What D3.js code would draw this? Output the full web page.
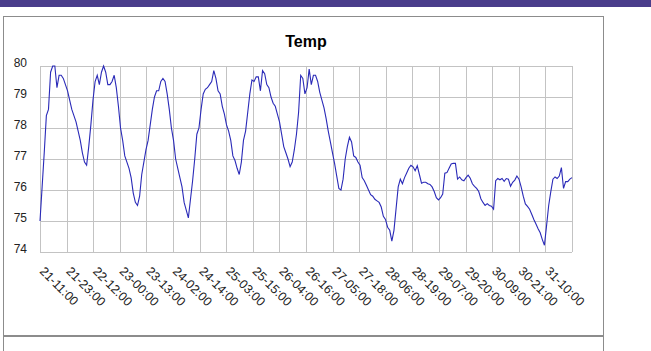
<!DOCTYPE html>
<html>
<head>
<meta charset="utf-8">
<script src="https://cdnjs.cloudflare.com/ajax/libs/d3/7.8.5/d3.min.js"></script>
<style>
  body { margin: 0; background: #fff; }
  svg { display: block; font-family: "Liberation Sans", Arial, sans-serif; }
</style>
</head>
<body>
<div id="chart"></div>
<script>
// hourly temperature readings
var temps = [
  75.0, 76.1, 77.2, 78.4, 78.6, 79.8, 80.0, 80.0, 79.3, 79.7,
  79.7, 79.6, 79.4, 79.2, 78.9, 78.6, 78.4, 78.2, 77.9, 77.6,
  77.2, 76.9, 76.8, 77.4, 78.1, 78.9, 79.5, 79.7, 79.4, 79.8,
  80.0, 79.8, 79.4, 79.4, 79.5, 79.7, 79.3, 78.7, 78.0, 77.6,
  77.1, 76.9, 76.7, 76.4, 75.9, 75.6, 75.5, 75.8, 76.5, 76.9,
  77.3, 77.6, 78.1, 78.6, 79.0, 79.2, 79.2, 79.5, 79.6, 79.5,
  79.1, 78.6, 78.0, 77.6, 77.0, 76.7, 76.4, 76.1, 75.6, 75.35,
  75.1, 75.7, 76.3, 77.0, 77.8, 78.0, 78.6, 79.1, 79.25, 79.3,
  79.4, 79.5, 79.85, 79.6, 79.2, 79.1, 78.7, 78.45, 78.1, 77.9,
  77.6, 77.1, 76.95, 76.7, 76.5, 76.9, 77.6, 77.9, 78.5, 79.1,
  79.55, 79.5, 79.65, 79.65, 79.2, 79.85, 79.75, 79.4, 79.3, 79.0,
  78.8, 78.7, 78.45, 78.2, 77.8, 77.4, 77.2, 77.0, 76.75, 76.9,
  77.3, 77.8, 78.5, 79.7, 79.6, 79.1, 79.3, 79.9, 79.4, 79.7,
  79.7, 79.5, 79.15, 78.9, 78.65, 78.3, 77.9, 77.55, 77.2, 76.85,
  76.45, 76.05, 76.0, 76.35, 77.0, 77.4, 77.7, 77.55, 77.1, 77.05,
  76.9, 76.8, 76.4, 76.3, 76.15, 76.0, 75.85, 75.8, 75.7, 75.65,
  75.6, 75.45, 75.15, 75.05, 74.8, 74.7, 74.35, 74.7, 75.4, 76.1,
  76.35, 76.2, 76.4, 76.55, 76.7, 76.8, 76.75, 76.62, 76.78, 76.5,
  76.22, 76.25, 76.25, 76.2, 76.18, 76.1, 75.95, 75.75, 75.68, 75.75,
  75.87, 76.54, 76.56, 76.7, 76.84, 76.86, 76.86, 76.35, 76.42, 76.33,
  76.3, 76.4, 76.48, 76.38, 76.2, 76.12, 76.05, 75.95, 75.72, 75.6,
  75.5, 75.56, 75.5, 75.48, 75.38, 76.3, 76.37, 76.33, 76.37, 76.28,
  76.37, 76.35, 76.12, 76.25, 76.32, 76.45, 76.35, 76.1, 75.8, 75.55,
  75.47, 75.38, 75.22, 75.05, 74.9, 74.75, 74.62, 74.4, 74.22, 74.85,
  75.5, 75.95, 76.35, 76.42, 76.37, 76.45, 76.72, 76.05, 76.27, 76.27,
  76.35, 76.4
];

var timeLabels = [
  "21-11:00", "21-23:00", "22-12:00", "23-00:00", "23-13:00",
  "24-02:00", "24-14:00", "25-03:00", "25-15:00", "26-04:00",
  "26-16:00", "27-05:00", "27-18:00", "28-06:00", "28-19:00",
  "29-07:00", "29-20:00", "30-09:00", "30-21:00", "31-10:00"
];

var yTicks = [74, 75, 76, 77, 78, 79, 80];

var W = 651, H = 351;
// plot box (can't call it "top", that's window.top)
var pLeft = 40, pRight = 572, pTop = 66, pBottom = 252;

var svg = d3.select("#chart").append("svg")
  .attr("width", W)
  .attr("height", H);

// page chrome
svg.append("rect").attr("x", 0).attr("y", 0).attr("width", W).attr("height", 7)
  .attr("fill", "#4a3d8b");
svg.append("rect").attr("x", 3.5).attr("y", 16.5).attr("width", 600).attr("height", 319)
  .attr("fill", "none").attr("stroke", "#8c8c8c");
svg.append("path").attr("d", "M3.5,336.5V351M603.5,336.5V351")
  .attr("stroke", "#8c8c8c").attr("fill", "none");
svg.append("line").attr("x1", 3).attr("x2", 604).attr("y1", 336.5).attr("y2", 336.5)
  .attr("stroke", "#8c8c8c");

var x = d3.scaleLinear().domain([0, temps.length - 1]).range([pLeft, pRight]);
var xGrid = d3.scaleLinear().domain([0, 20]).range([pLeft, pRight]);
var y = d3.scaleLinear().domain([74, 80]).range([pBottom, pTop]);

// grid
svg.append("g")
  .attr("transform", "translate(" + pLeft + ",0)")
  .call(d3.axisLeft(y).tickValues(yTicks).tickSize(-(pRight - pLeft)).tickFormat(""))
  .call(g => g.select(".domain").remove())
  .selectAll("line").attr("stroke", "#c3c3c3").attr("shape-rendering", "crispEdges");

svg.append("g")
  .attr("transform", "translate(0," + pBottom + ")")
  .call(d3.axisBottom(xGrid).tickValues(d3.range(21)).tickSize(-(pBottom - pTop)).tickFormat(""))
  .call(g => g.select(".domain").remove())
  .selectAll("line").attr("stroke", "#c3c3c3").attr("shape-rendering", "crispEdges");

// y labels
svg.selectAll(".ylab")
  .data(yTicks)
  .enter().append("text")
  .attr("class", "ylab")
  .attr("x", 27)
  .attr("y", d => y(d) + 1)
  .attr("text-anchor", "end")
  .attr("font-size", 12)
  .attr("fill", "#222")
  .text(d => d);

// x labels, slanted
svg.selectAll(".xlab")
  .data(timeLabels)
  .enter().append("text")
  .attr("class", "xlab")
  .attr("transform", (d, i) => "translate(" + (xGrid(i) - 1) + ",272) rotate(45)")
  .attr("font-size", 12.5)
  .attr("fill", "#222")
  .text(d => d);

// title
svg.append("text")
  .attr("x", (pLeft + pRight) / 2)
  .attr("y", 47)
  .attr("text-anchor", "middle")
  .attr("font-size", 16)
  .attr("font-weight", "bold")
  .text("Temp");

// the line
var line = d3.line()
  .x((d, i) => x(i))
  .y(d => y(d));

svg.append("path")
  .datum(temps)
  .attr("d", line)
  .attr("fill", "none")
  .attr("stroke", "#2a2ab8")
  .attr("stroke-width", 1.1);
</script>
</body>
</html>
